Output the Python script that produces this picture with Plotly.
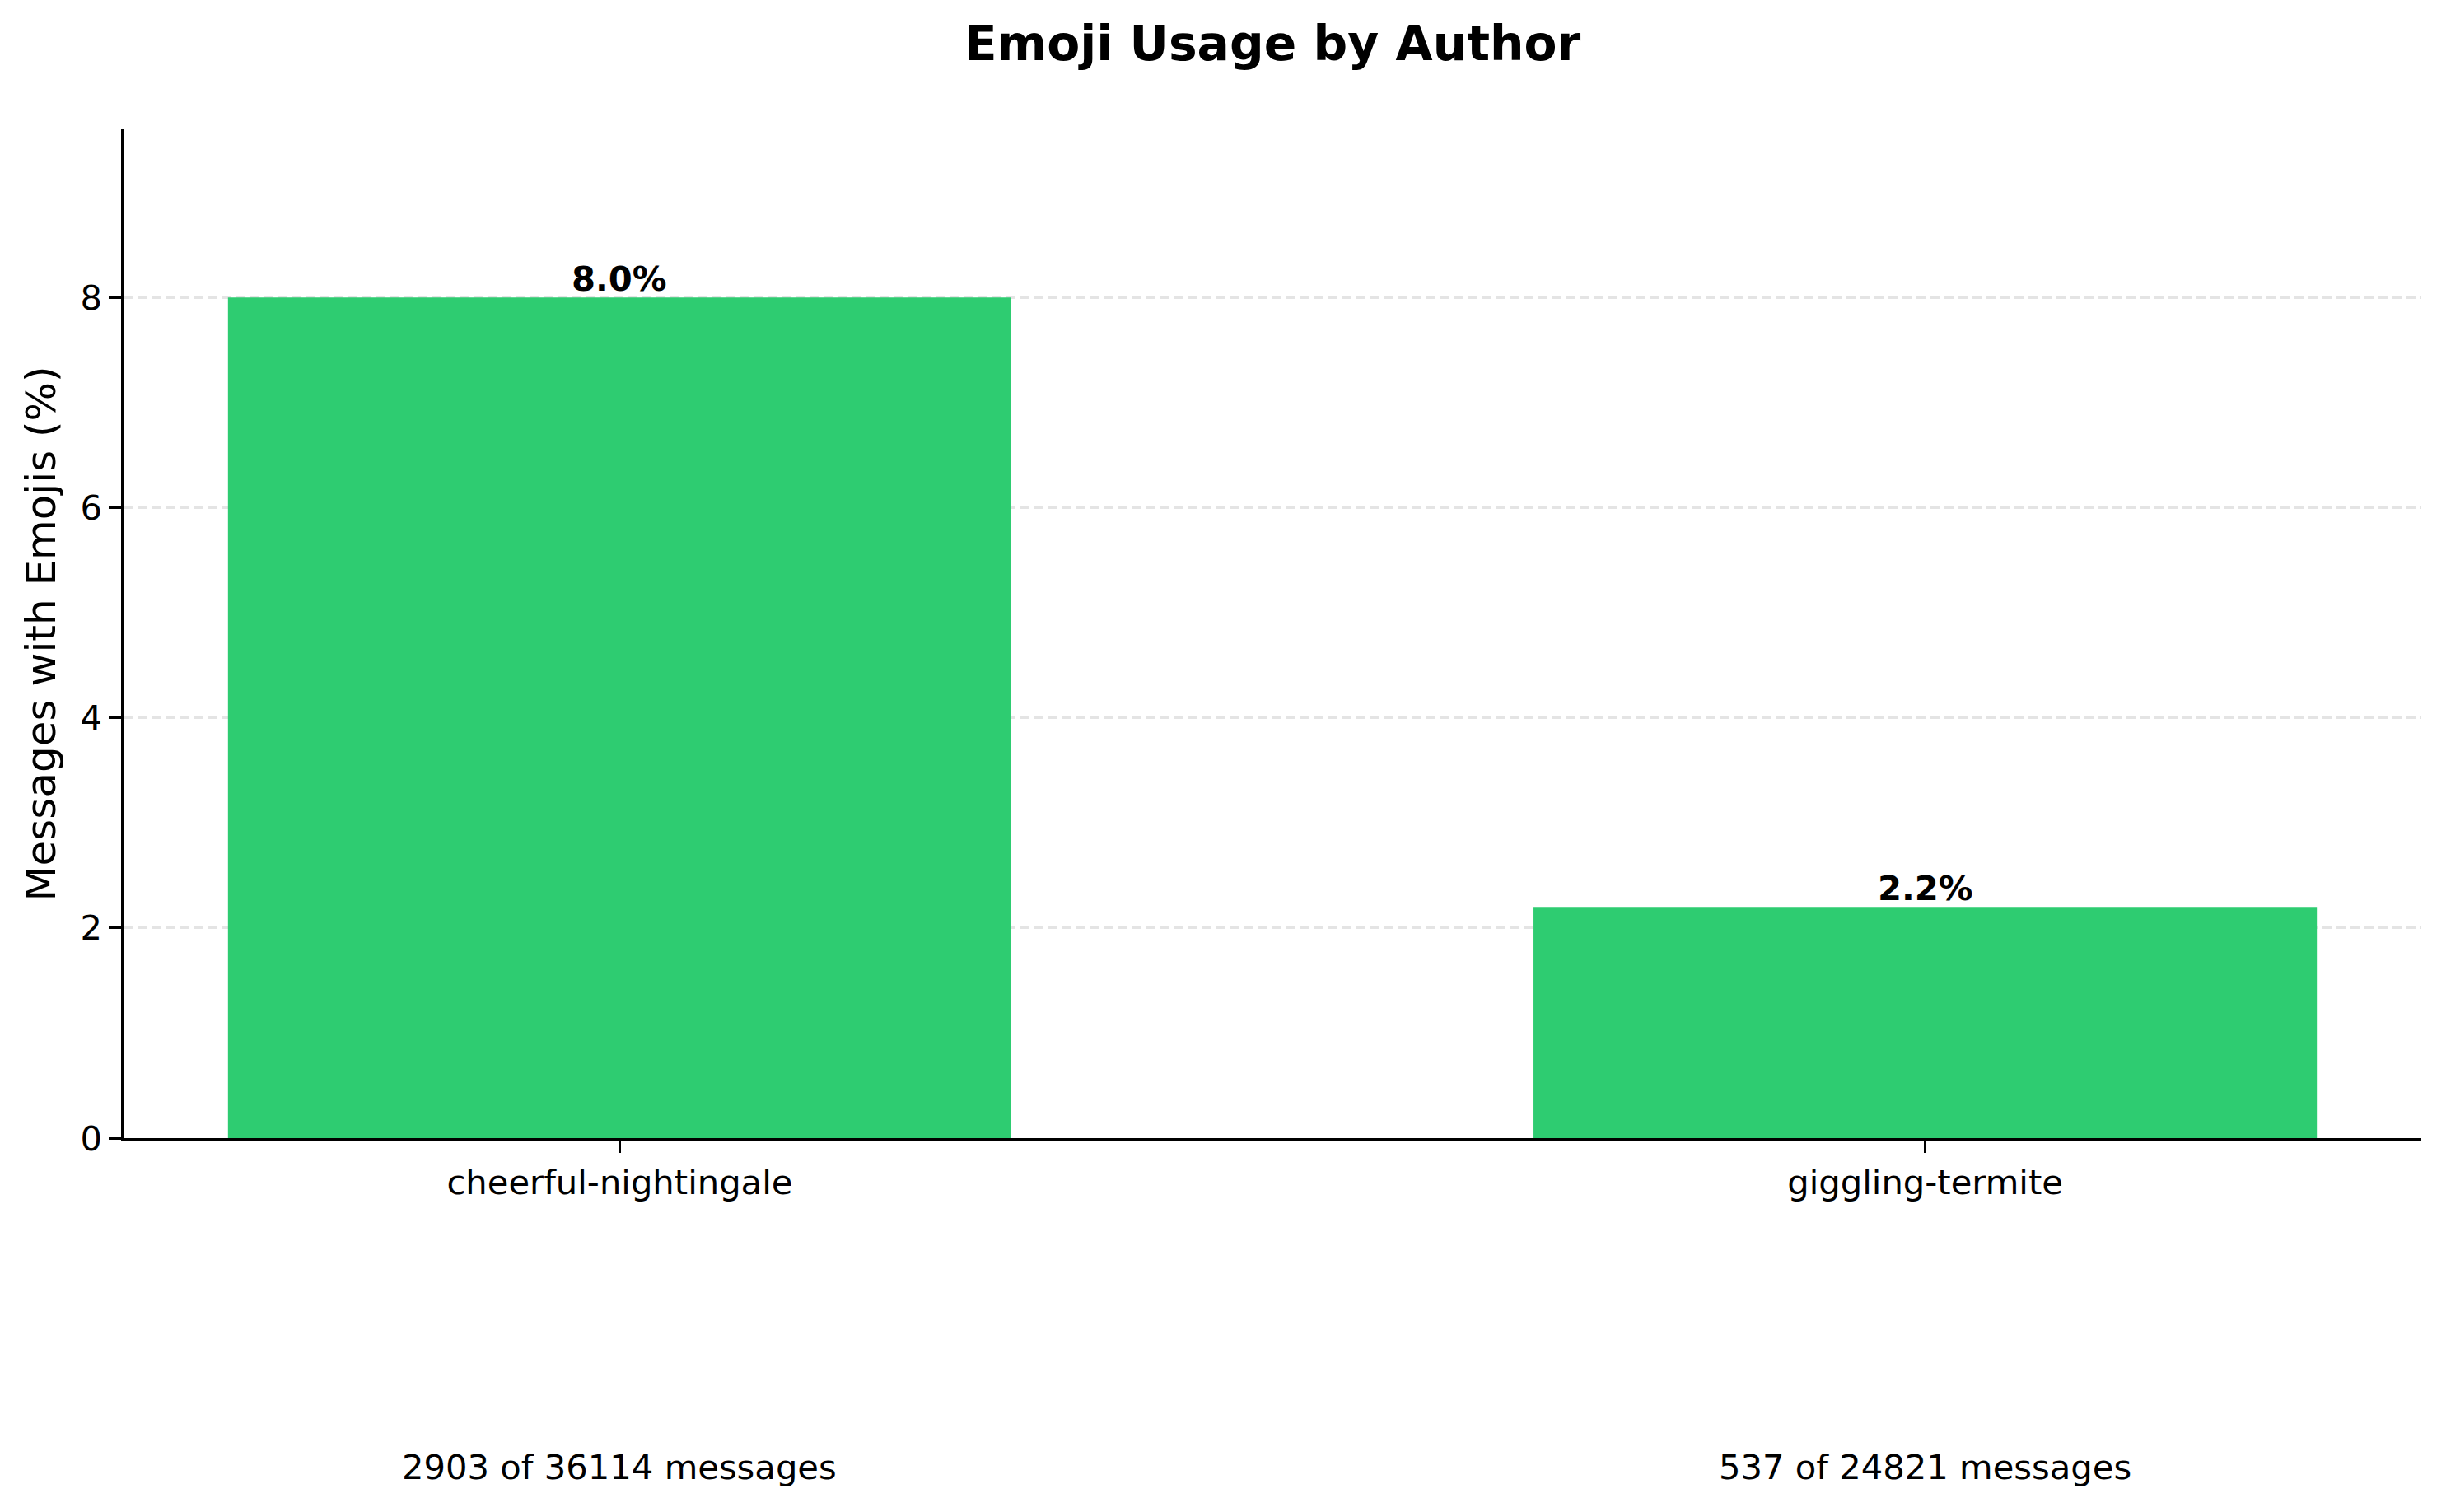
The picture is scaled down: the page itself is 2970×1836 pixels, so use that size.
import plotly.graph_objects as go

authors = ["cheerful-nightingale", "giggling-termite"]
emoji_pct = [8.0, 2.2]
emoji_msgs = [2903, 537]
total_msgs = [36114, 24821]

FONT = "DejaVu Sans"
W, H = 2970, 1836
OFF = 8  # page body margin
L, R, T, B = 150 - OFF, 30 + OFF, 157 - OFF, 454 + OFF

fig = go.Figure()
fig.add_trace(go.Bar(
    x=authors, y=emoji_pct, width=0.6,
    marker=dict(color="#2ecc71", line=dict(width=0)),
    hoverinfo="skip",
))

# value labels above bars
for a, v in zip(authors, emoji_pct):
    fig.add_annotation(
        x=a, y=v, xref="x", yref="y", text=f"<b>{v:.1f}%</b>",
        showarrow=False, yanchor="bottom", xanchor="center",
        yshift=-4, font=dict(family=FONT, size=41.7, color="black"),
    )

# counts below the axis
for a, n, tot in zip(authors, emoji_msgs, total_msgs):
    fig.add_annotation(
        x=a, y=-0.3265, xref="x", yref="paper",
        text=f"{n} of {tot} messages", showarrow=False,
        yanchor="middle", xanchor="center",
        font=dict(family=FONT, size=41.7, color="black"),
    )

ymax = max(emoji_pct) * 1.2

fig.update_layout(
    width=W, height=H, autosize=False,
    margin=dict(l=L, r=R, t=T, b=B, pad=0),
    paper_bgcolor="white", plot_bgcolor="white",
    showlegend=False,
    font=dict(family=FONT, color="black"),
    title=dict(
        text="<b>Emoji Usage by Author</b>",
        x=0.5, xref="paper", xanchor="center",
        y=1 - (53 - OFF) / H, yref="container", yanchor="middle",
        font=dict(family=FONT, size=58.3, color="black"),
    ),
    xaxis=dict(
        type="category", range=[-0.38, 1.38],
        showline=True, linecolor="black", linewidth=3.3,
        ticks="outside", ticklen=14.6, tickwidth=3.3, tickcolor="black",
        tickfont=dict(family=FONT, size=41.7, color="black"),
        showgrid=False, zeroline=False, automargin=False,
    ),
    yaxis=dict(
        range=[0, ymax], tickvals=[0, 2, 4, 6, 8],
        showline=True, linecolor="black", linewidth=3.3,
        ticks="outside", ticklen=14.6, tickwidth=3.3, tickcolor="black",
        tickfont=dict(family=FONT, size=41.7, color="black"),
        showgrid=True, gridcolor="#e4e4e4", gridwidth=3, griddash="12px,5px",
        zeroline=False, automargin=False,
        title=dict(text="Messages with Emojis (%)", standoff=14,
                   font=dict(family=FONT, size=50, color="black")),
    ),
)

fig.write_html("out.html")
